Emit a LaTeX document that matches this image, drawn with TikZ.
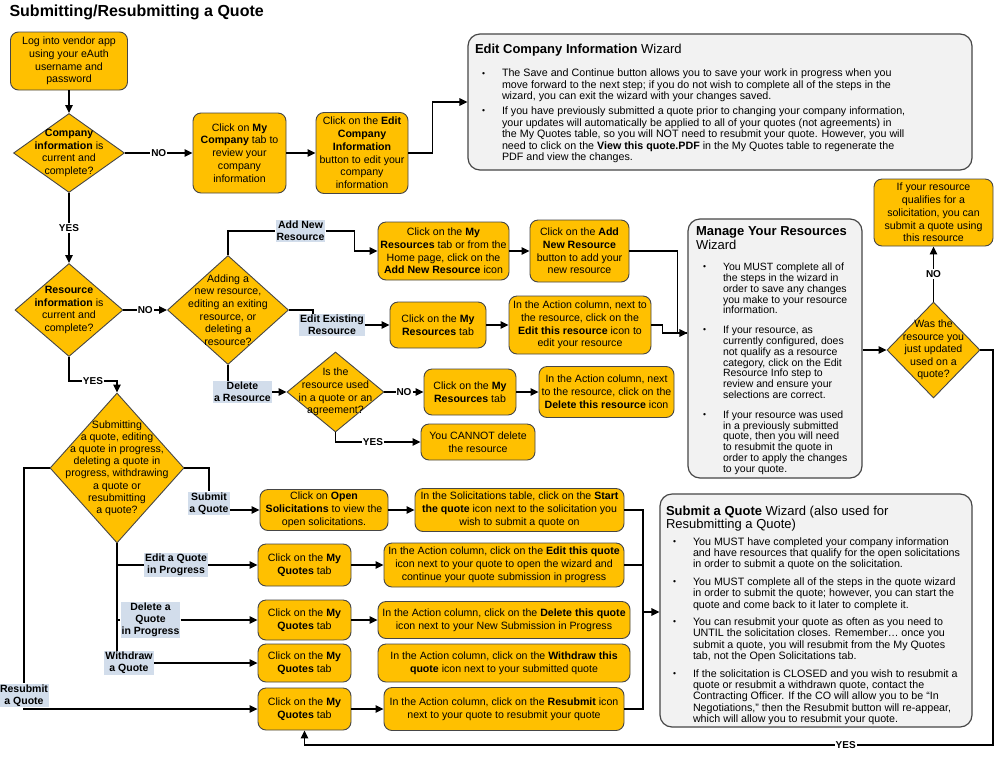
\documentclass[tikz,border=0pt]{standalone}
\usepackage{fontspec}
\setmainfont{Liberation Sans}
\usetikzlibrary{arrows.meta,shapes.geometric,positioning}
\definecolor{orangeboite}{RGB}{255,192,0}
\definecolor{bordure}{RGB}{70,70,70}
\definecolor{bleuetiq}{RGB}{210,221,235}
\definecolor{grisfond}{RGB}{242,242,242}
\setlength{\parskip}{0pt}
% liste a puces des assistants
\newenvironment{puces}[1]{%
  \begin{list}{\raisebox{0.8pt}{\fontsize{8.5}{8.5}\selectfont\textbullet}}{%
    \setlength{\leftmargin}{27pt}\setlength{\labelwidth}{10pt}%
    \setlength{\labelsep}{17pt}\setlength{\itemsep}{#1}%
    \setlength{\parsep}{0pt}\setlength{\topsep}{0pt}\setlength{\partopsep}{0pt}}}%
  {\end{list}}

\begin{document}
\begin{tikzpicture}[x=1pt,y=-1pt]
%styles : boites, losanges, etiquettes, assistants
\tikzset{boite/.style={draw=bordure,fill=orangeboite,rounded corners=8pt,line width=0.9pt,align=center,inner sep=1pt,font=\fontsize{10.6}{12.8}\selectfont},
losange/.style={diamond,draw=bordure,fill=orangeboite,line width=0.9pt,inner sep=0pt},
texte/.style={align=center,inner sep=0pt,font=\fontsize{10.6}{12.6}\selectfont},
etiquette/.style={fill=bleuetiq,align=center,inner sep=1pt,font=\fontsize{10.5}{12}\selectfont\bfseries},
assistant/.style={draw=bordure,fill=grisfond,rounded corners=12pt,line width=1.2pt,inner sep=0pt},
trait/.style={line width=1.3pt},
fleche/.style={trait,-{Triangle[length=8pt,width=7.5pt]}},
reponse/.style={fill=white,inner sep=1pt,font=\fontsize{10}{12}\selectfont\bfseries}}
\fill[white] (0,0) rectangle (996,756);
\useasboundingbox (0,0) rectangle (996,756);

\node[anchor=west,font=\fontsize{16}{19}\selectfont\bfseries] (titre) at (6,12) {Submitting/Resubmitting a Quote};

%informations de l'entreprise
\node[boite,minimum width=117,minimum height=58] (login) at (69,61) {Log into vendor app\\using your eAuth\\username and\\password};
\node[losange,minimum width=111,minimum height=79,label={[texte]center:{\textbf{Company}\\\textbf{information} is\\current and\\complete?}}] (compinfo) at (69,153) {};
\node[boite,minimum width=93,minimum height=80] (mycomp) at (239.5,153) {Click on \textbf{My}\\\textbf{Company} tab to\\review your\\company\\information};
\node[boite,minimum width=92,minimum height=81] (editcomp) at (362,153) {Click on the \textbf{Edit}\\\textbf{Company}\\\textbf{Information}\\button to edit your\\company\\information};
\node[assistant,minimum width=504,minimum height=136] (ecwiz) at (720,102) {\parbox[c][116pt][t]{490pt}{\raggedright
{\fontsize{13}{15}\selectfont\textbf{Edit Company Information} Wizard\par}
\vspace{12pt}\fontsize{10.7}{11.5}\selectfont
\begin{puces}{3.3pt}
\item The Save and Continue button allows you to save your work in progress when you\\move forward to the next step; if you do not wish to complete all of the steps in the\\wizard, you can exit the wizard with your changes saved.
\item If you have previously submitted a quote prior to changing your company information,\\your updates will automatically be applied to all of your quotes (not agreements) in\\the My Quotes table, so you will NOT need to resubmit your quote. However, you will\\need to click on the \textbf{View this quote.PDF} in the My Quotes table to regenerate the\\PDF and view the changes.
\end{puces}}};

%ressources
\node[losange,minimum width=108,minimum height=93,label={[texte]center:{\textbf{Resource}\\\textbf{information} is\\current and\\complete?}}] (resinfo) at (69,310) {};
\node[losange,minimum width=121,minimum height=109,label={[texte]center:{Adding a\\new resource,\\editing an exiting\\resource, or\\deleting a\\resource?}}] (resq) at (228,310) {};
\node[etiquette] (addlab) at (300.5,231) {Add New\\Resource};
\node[boite,minimum width=131,minimum height=58] (myres1) at (443.5,251) {Click on the \textbf{My}\\\textbf{Resources} tab or from the\\Home page, click on the\\\textbf{Add New Resource} icon};
\node[boite,minimum width=99,minimum height=62] (addres) at (579.5,251) {Click on the \textbf{Add}\\\textbf{New Resource}\\button to add your\\new resource};
\node[etiquette] (editlab) at (332,325) {Edit Existing\\Resource};
\node[boite,minimum width=96,minimum height=46] (myres2) at (438,325) {Click on the \textbf{My}\\\textbf{Resources} tab};
\node[boite,minimum width=142,minimum height=58] (editres) at (580,325) {In the Action column, next to\\the resource, click on the\\\textbf{Edit this resource} icon to\\edit your resource};
\node[etiquette] (dellab) at (242.5,392) {Delete\\a Resource};
\node[losange,minimum width=97,minimum height=80,label={[texte]center:{Is the\\resource used\\in a quote or an\\agreement?}}] (used) at (335.5,392) {};
\node[boite,minimum width=92,minimum height=46] (myres3) at (470,392) {Click on the \textbf{My}\\\textbf{Resources} tab};
\node[boite,minimum width=135,minimum height=51] (delres) at (606.5,392) {In the Action column, next\\to the resource, click on the\\\textbf{Delete this resource} icon};
\node[boite,minimum width=114,minimum height=36] (cannot) at (478,442) {You CANNOT delete\\the resource};
\node[assistant,minimum width=174,minimum height=259] (mrwiz) at (775,348.5) {\parbox[c][243pt][t]{158pt}{\raggedright
{\fontsize{13}{14}\selectfont\textbf{Manage Your Resources}\\Wizard\par}
\vspace{10pt}\fontsize{10.5}{10.8}\selectfont
\begin{puces}{9pt}
\item You MUST complete all of\\the steps in the wizard in\\order to save any changes\\you make to your resource\\information.
\item If your resource, as\\currently configured, does\\not qualify as a resource\\category, click on the Edit\\Resource Info step to\\review and ensure your\\selections are correct.
\item If your resource was used\\in a previously submitted\\quote, then you will need\\to resubmit the quote in\\order to apply the changes\\to your quote.
\end{puces}}};
\node[losange,minimum width=93,minimum height=96,label={[texte]center:{Was the\\resource you\\just updated\\used on a\\quote?}}] (wasused) at (933.5,350) {};
\node[boite,minimum width=119,minimum height=67] (qualify) at (933.5,212.5) {If your resource\\qualifies for a\\solicitation, you can\\submit a quote using\\this resource};

%devis
\node[losange,minimum width=134,minimum height=150,label={[texte,font=\fontsize{10.6}{12.2}\selectfont]center:{Submitting\\a quote, editing\\a quote in progress,\\deleting a quote in\\progress, withdrawing\\a quote or\\resubmitting\\a quote?}}] (quoteq) at (117,468) {};
\node[etiquette] (sublab) at (209,503.5) {Submit\\a Quote};
\node[boite,minimum width=128,minimum height=41] (opensol) at (324,510) {Click on \textbf{Open}\\\textbf{Solicitations} to view the\\open solicitations.};
\node[boite,minimum width=209,minimum height=43] (startq) at (519.5,510) {In the Solicitations table, click on the \textbf{Start}\\\textbf{the quote} icon next to the solicitation you\\wish to submit a quote on};
\node[etiquette] (editqlab) at (176,565) {Edit a Quote\\in Progress};
\node[boite,minimum width=93,minimum height=42] (myq1) at (304.5,565) {Click on the \textbf{My}\\\textbf{Quotes} tab};
\node[boite,minimum width=240,minimum height=44] (editq) at (504,565) {In the Action column, click on the \textbf{Edit this quote}\\icon next to your quote to open the wizard and\\continue your quote submission in progress};
\node[etiquette] (delqlab) at (150.5,620) {Delete a\\Quote\\in Progress};
\node[boite,minimum width=93,minimum height=40] (myq2) at (304.5,620) {Click on the \textbf{My}\\\textbf{Quotes} tab};
\node[boite,minimum width=252,minimum height=37] (delq) at (504,620) {In the Action column, click on the \textbf{Delete this quote}\\icon next to your New Submission in Progress};
\node[etiquette] (withlab) at (129,663) {Withdraw\\a Quote};
\node[boite,minimum width=93,minimum height=38] (myq3) at (304.5,663) {Click on the \textbf{My}\\\textbf{Quotes} tab};
\node[boite,minimum width=252,minimum height=38] (withq) at (504,663) {In the Action column, click on the \textbf{Withdraw this}\\\textbf{quote} icon next to your submitted quote};
\node[etiquette] (resublab) at (24,695.5) {Resubmit\\a Quote};
\node[boite,minimum width=93,minimum height=42] (myq4) at (304.5,709) {Click on the \textbf{My}\\\textbf{Quotes} tab};
\node[boite,minimum width=240,minimum height=43] (resubq) at (504,709) {In the Action column, click on the \textbf{Resubmit} icon\\next to your quote to resubmit your quote};
\node[assistant,minimum width=312,minimum height=233] (sqwiz) at (816,610.5) {\parbox[c][209pt][t]{300pt}{\raggedright
{\fontsize{13}{13.5}\selectfont\textbf{Submit a Quote} Wizard (also used for\\Resubmitting a Quote)\par}
\vspace{5pt}\fontsize{10.7}{11.3}\selectfont
\begin{puces}{6.3pt}
\item You MUST have completed your company information\\and have resources that qualify for the open solicitations\\in order to submit a quote on the solicitation.
\item You MUST complete all of the steps in the quote wizard\\in order to submit the quote; however, you can start the\\quote and come back to it later to complete it.
\item You can resubmit your quote as often as you need to\\UNTIL the solicitation closes. Remember\ldots{} once you\\submit a quote, you will resubmit from the My Quotes\\tab, not the Open Solicitations tab.
\item If the solicitation is CLOSED and you wish to resubmit a\\quote or resubmit a withdrawn quote, contact the\\Contracting Officer. If the CO will allow you to be “In\\Negotiations,” then the Resubmit button will re-appear,\\which will allow you to resubmit your quote.
\end{puces}}};

%connecteurs
\draw[fleche] (login.south) -- (compinfo.north);
\draw[fleche] (compinfo.east) -- node[reponse]{NO} (mycomp.west);
\draw[fleche] (mycomp) -- (editcomp);
\draw[fleche] (editcomp.east) -- ++(24,0) |- (ecwiz.west);
\draw[fleche] (compinfo.south) -- node[reponse]{YES} (resinfo.north);
\draw[fleche] (resinfo.east) -- node[reponse]{NO} (resq.west);
\draw[trait] (resq.north) |- (addlab.west);
\draw[fleche] (addlab.east) -- ++(29,0) |- (myres1.west);
\draw[fleche] (myres1) -- (addres);
\draw[trait] (editres.east) -- ++(11,0) |- (mrwiz.west |- 0,333);
\draw[fleche] (addres.east) -- ++(48,0) |- (mrwiz.west |- 0,333);
\draw[trait] (resq.east) -| ([xshift=-19pt]editlab.north);
\draw[fleche] (editlab.east) -- (myres2.west);
\draw[fleche] (myres2) -- (editres);
\draw[trait] (resq.south) -- (resq.south |- dellab.north);
\draw[fleche] (dellab.east) -- (used.west);
\draw[fleche] (used.east) -- node[reponse]{NO} (myres3.west);
\draw[fleche] (myres3) -- (delres);
\draw[fleche] (used.south) |- node[reponse,pos=0.72]{YES} (cannot.west);
\draw[fleche] (mrwiz.east |- wasused.west) -- (wasused.west);
\draw[fleche] (wasused.north) -- node[reponse]{NO} (qualify.south);
\draw[fleche] (resinfo.south) -- ++(0,24) -| node[reponse,pos=0.25]{YES} (quoteq.north);
\draw[trait] (quoteq.east) -| (sublab.north);
\draw[fleche] (sublab.east |- opensol.west) -- (opensol.west);
\draw[fleche] (opensol) -- (startq);
\draw[trait] (quoteq.south) -- (quoteq.south |- withlab.north);
\draw[trait] (quoteq.south |- editqlab.west) -- (editqlab.west);
\draw[fleche] (editqlab.east) -- (myq1.west);
\draw[fleche] (myq1) -- (editq);
\draw[trait] (quoteq.south |- delqlab.west) -- (delqlab.west);
\draw[fleche] (delqlab.east) -- (myq2.west);
\draw[fleche] (myq2) -- (delq);
\draw[fleche] (withlab.east) -- (myq3.west);
\draw[trait] (quoteq.west) -| (resublab.north);
\draw[fleche] (resublab.south) |- (myq4.west);
\draw[fleche] (myq4) -- (resubq);
\coordinate (fusion) at (643,612);
\draw[trait] (startq.east) -| (fusion);
\draw[trait] (resubq.east) -| (fusion);
\draw[trait] (editq.east) -- (editq.east -| fusion);
\draw[fleche] (fusion) -- (fusion -| sqwiz.west);
\draw[fleche] (wasused.east) -| (993,745) -| node[reponse,pos=0.107]{YES} (myq4.south);
\end{tikzpicture}
\end{document}
